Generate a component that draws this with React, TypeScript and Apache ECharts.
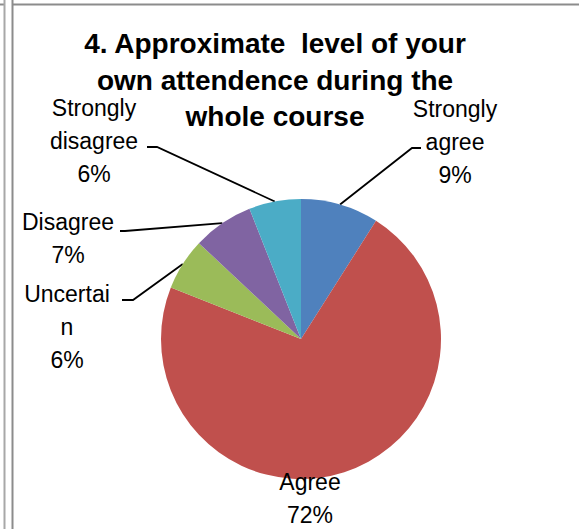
import React, { useEffect, useRef } from "react";
import * as echarts from "echarts";

const categories = ["Strongly agree", "Agree", "Uncertain", "Disagree", "Strongly disagree"];
const labelTexts = ["Strongly\nagree", "Agree", "Uncertai\nn", "Disagree", "Strongly\ndisagree"];
const values = [9, 72, 6, 7, 6];
const colors = ["#4F81BD", "#C0504D", "#9BBB59", "#8064A2", "#4BACC6"];
const titleLines = ["4. Approximate  level of your", "own attendence during the", "whole course"];

const W = 579;
const H = 529;

export default function App() {
  const ref = useRef<HTMLDivElement>(null);
  useEffect(() => {
    if (!ref.current) return;
    const chart = echarts.init(ref.current, null, { renderer: "svg", width: W, height: H });
    // label placement (center x, center y) and elbow/end points per slice
    const place: Record<string, { x: number; y: number; elbow?: number[]; end?: number[] }> = {
      "Strongly agree": { x: 455, y: 142, elbow: [412, 148], end: [421, 148] },
      Agree: { x: 310, y: 498 },
      Uncertain: { x: 67, y: 327, elbow: [133, 300], end: [122, 300] },
      Disagree: { x: 68, y: 238, elbow: [125, 231], end: [120, 231] },
      "Strongly disagree": { x: 94, y: 141, elbow: [157, 147], end: [147, 147] },
    };
    chart.setOption({
      animation: false,
      backgroundColor: "#ffffff",
      graphic: [
        { type: "line", shape: { x1: 0, y1: 4.5, x2: 5, y2: 4.5 }, style: { stroke: "#8c8c8c", lineWidth: 2 } },
        { type: "line", shape: { x1: 13, y1: 4.5, x2: W, y2: 4.5 }, style: { stroke: "#8c8c8c", lineWidth: 2 } },
        { type: "line", shape: { x1: 4.5, y1: 0, x2: 4.5, y2: H }, style: { stroke: "#a8a8a8", lineWidth: 2 } },
        { type: "line", shape: { x1: 12.5, y1: 0, x2: 12.5, y2: H }, style: { stroke: "#8c8c8c", lineWidth: 2 } },
        {
          type: "text",
          x: 275,
          y: 80,
          style: {
            text: titleLines.join("\n"),
            align: "center",
            verticalAlign: "middle",
            fontFamily: "Liberation Sans",
            fontWeight: "bold",
            fontSize: 28,
            lineHeight: 36.5,
            fill: "#000",
          },
        },
      ],
      series: [
        {
          type: "pie",
          center: [301, 339],
          radius: 140,
          startAngle: 90,
          clockwise: true,
          avoidLabelOverlap: false,
          itemStyle: { borderWidth: 0 },
          data: categories.map((c, i) => ({
            name: c,
            value: values[i],
            itemStyle: { color: colors[i] },
          })),
          label: {
            show: true,
            position: "outside",
            formatter: (p: any) => `${labelTexts[p.dataIndex]}\n${p.value}%`,
            fontFamily: "Liberation Sans",
            fontSize: 23,
            lineHeight: 33,
            color: "#000",
            align: "center",
          },
          labelLine: {
            show: true,
            length: 10,
            length2: 10,
            lineStyle: { color: "#000", width: 1.8 },
          },
          labelLayout: (params: any) => {
            const name = categories[params.dataIndex];
            const pl = place[name];
            const out: any = {
              x: pl.x,
              y: pl.y,
              align: "center",
              verticalAlign: "middle",
            };
            const pts = params.labelLinePoints;
            if (pl.elbow && pts) {
              out.labelLinePoints = [pts[0], pl.elbow, pl.end];
            } else if (pts) {
              out.labelLinePoints = [pts[0], pts[0], pts[0]];
            }
            return out;
          },
        },
      ],
    });
    return () => chart.dispose();
  }, []);
  return <div ref={ref} style={{ position: "absolute", left: 0, top: 0, width: W, height: H }} />;
}
